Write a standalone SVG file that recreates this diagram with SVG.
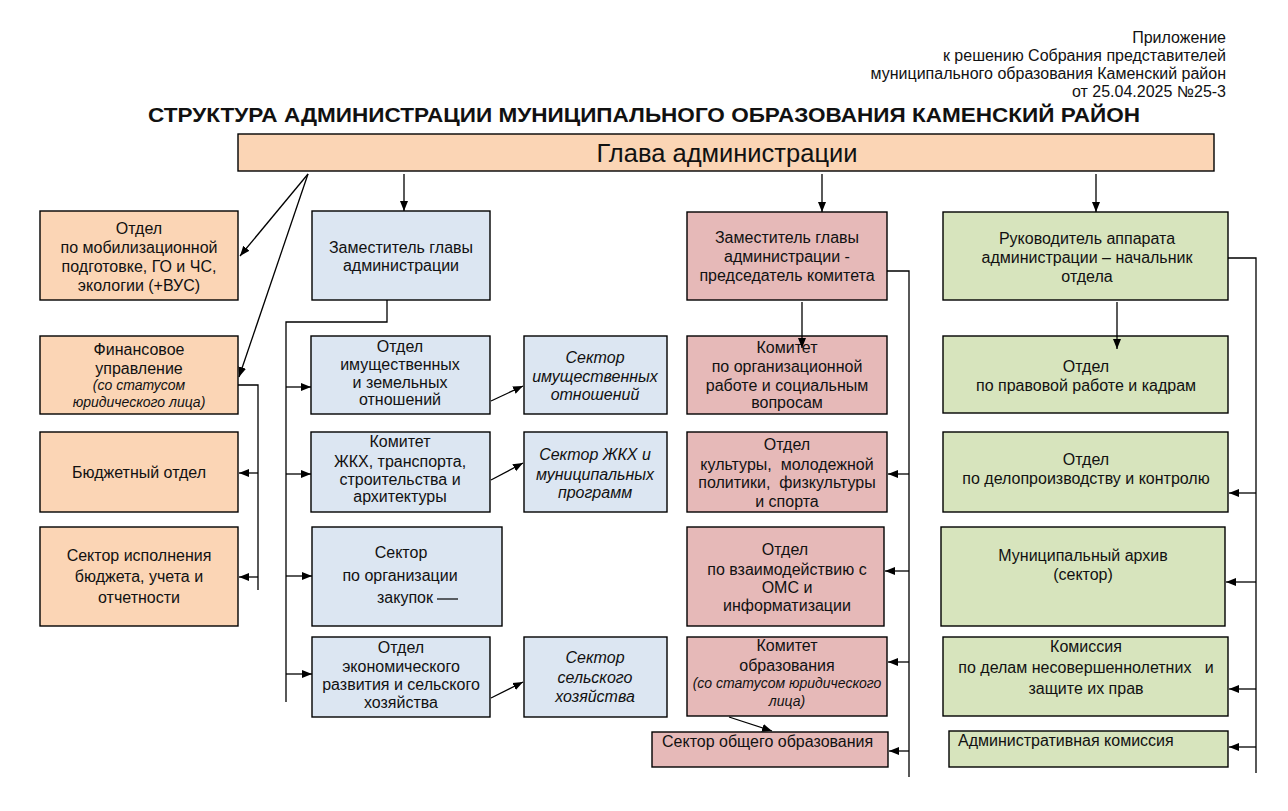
<svg xmlns="http://www.w3.org/2000/svg" width="1288" height="811" viewBox="0 0 1288 811">
<defs>
<marker id="ah" viewBox="0 0 10 10" refX="10" refY="5" markerWidth="10" markerHeight="10" markerUnits="userSpaceOnUse" orient="auto">
<path d="M0,1 L10,5 L0,9 Z" fill="#000"/>
</marker>
<style>
text{font-family:"Liberation Sans",Arial,sans-serif;fill:#111;white-space:pre}
.t{font-size:16px;text-anchor:middle}
.i{font-style:italic}
.s{font-size:14px;font-style:italic;text-anchor:middle}
.l{font-size:16px;text-anchor:start}
.h{font-size:16px;text-anchor:end}
.n{stroke:#000;stroke-width:1.4}
.o{fill:#FBD5B5}
.b{fill:#DCE6F2}
.p{fill:#E6B9B8}
.g{fill:#D7E4BD}
.c line,.c polyline{stroke:#000;stroke-width:1.3;fill:none}
.a{marker-end:url(#ah)}
</style>
</defs>
<rect x="0" y="0" width="1288" height="811" fill="#fff"/>

<g id="header">
<text class="h" x="1226" y="43">Приложение</text>
<text class="h" x="1226" y="61">к решению Собрания представителей</text>
<text class="h" x="1226" y="79">муниципального образования Каменский район</text>
<text class="h" x="1226" y="97">от 25.04.2025 №25-3</text>
<text x="148" y="122" font-size="21" font-weight="bold" textLength="992" lengthAdjust="spacingAndGlyphs">СТРУКТУРА АДМИНИСТРАЦИИ МУНИЦИПАЛЬНОГО ОБРАЗОВАНИЯ КАМЕНСКИЙ РАЙОН</text>
</g>

<g id="glava"><rect class="n o" x="238" y="134" width="976" height="37"/><text x="727" y="162" font-size="25.5" text-anchor="middle">Глава администрации</text></g>

<g id="mob"><rect class="n o" x="40" y="211" width="198" height="89"/>
<text class="t" x="139" y="234">Отдел</text><text class="t" x="139" y="253">по мобилизационной</text><text class="t" x="139" y="272">подготовке, ГО и ЧС,</text><text class="t" x="139" y="291">экологии (+ВУС)</text></g>

<g id="fin"><rect class="n o" x="40" y="336" width="198" height="78"/>
<text class="t" x="139" y="355">Финансовое</text><text class="t" x="139" y="374">управление</text><text class="s" x="139" y="390">(со статусом</text><text class="s" x="139" y="407">юридического лица)</text></g>

<g id="budget"><rect class="n o" x="40" y="432" width="198" height="80"/><text class="t" x="139" y="478">Бюджетный отдел</text></g>

<g id="ispoln"><rect class="n o" x="40" y="527" width="198" height="99"/>
<text class="t" x="139" y="561">Сектор исполнения</text><text class="t" x="139" y="582">бюджета, учета и</text><text class="t" x="139" y="603">отчетности</text></g>

<g id="zam1"><rect class="n b" x="312" y="211" width="178" height="89"/>
<text class="t" x="401" y="253">Заместитель главы</text><text class="t" x="401" y="271">администрации</text></g>

<g id="imush"><rect class="n b" x="311" y="336" width="179" height="78"/>
<text class="t" x="400" y="352">Отдел</text><text class="t" x="400" y="370">имущественных</text><text class="t" x="400" y="388">и земельных</text><text class="t" x="400" y="405">отношений</text></g>

<g id="sim"><rect class="n b" x="524" y="336" width="143" height="78"/>
<text class="t i" x="595" y="363">Сектор</text><text class="t i" x="595" y="382">имущественных</text><text class="t i" x="595" y="400">отношений</text></g>

<g id="zkh"><rect class="n b" x="311" y="432" width="179" height="80"/>
<text class="t" x="400" y="447">Комитет</text><text class="t" x="400" y="467">ЖКХ, транспорта,</text><text class="t" x="400" y="485">строительства и</text><text class="t" x="400" y="502">архитектуры</text></g>

<g id="szkh"><rect class="n b" x="524" y="432" width="143" height="80"/>
<text class="t i" x="595" y="460">Сектор ЖКХ и</text><text class="t i" x="595" y="480">муниципальных</text><text class="t i" x="595" y="498">программ</text></g>

<g id="zakup"><rect class="n b" x="312" y="527" width="190" height="99"/>
<text class="t" x="401" y="558">Сектор</text><text class="t" x="400" y="581">по организации</text><text class="t" x="405" y="603">закупок</text>
<line x1="437" y1="599" x2="458" y2="599" stroke="#000" stroke-width="1.2"/></g>

<g id="econ"><rect class="n b" x="312" y="637" width="178" height="80"/>
<text class="t" x="401" y="653">Отдел</text><text class="t" x="401" y="672">экономического</text><text class="t" x="401" y="690">развития и сельского</text><text class="t" x="401" y="708">хозяйства</text></g>

<g id="sselh"><rect class="n b" x="524" y="637" width="143" height="80"/>
<text class="t i" x="595" y="663">Сектор</text><text class="t i" x="595" y="683">сельского</text><text class="t i" x="595" y="702">хозяйства</text></g>

<g id="zam2"><rect class="n p" x="687" y="212" width="200" height="88"/>
<text class="t" x="787" y="243">Заместитель главы</text><text class="t" x="787" y="262">администрации -</text><text class="t" x="787" y="281">председатель комитета</text></g>

<g id="korg"><rect class="n p" x="687" y="336" width="200" height="78"/>
<text class="t" x="787" y="353">Комитет</text><text class="t" x="787" y="372">по организационной</text><text class="t" x="787" y="391">работе и социальным</text><text class="t" x="787" y="408">вопросам</text></g>

<g id="kult"><rect class="n p" x="687" y="432" width="200" height="80"/>
<text class="t" x="787" y="450">Отдел</text><text class="t" x="787" y="470">культуры,  молодежной</text><text class="t" x="787" y="488">политики,  физкультуры</text><text class="t" x="787" y="507">и спорта</text></g>

<g id="oms"><rect class="n p" x="687" y="527" width="197" height="99"/>
<text class="t" x="785" y="555">Отдел</text><text class="t" x="787" y="575">по взаимодействию с</text><text class="t" x="787" y="593">ОМС и</text><text class="t" x="787" y="611">информатизации</text></g>

<g id="kobr"><rect class="n p" x="687" y="637" width="200" height="79"/>
<text class="t" x="787" y="651">Комитет</text><text class="t" x="787" y="671">образования</text><text class="s" x="787" y="688">(со статусом юридического</text><text class="s" x="787" y="706">лица)</text></g>

<g id="sobr"><rect class="n p" x="652" y="732" width="236" height="35"/><text class="l" x="662" y="747">Сектор общего образования</text></g>

<g id="ruk"><rect class="n g" x="943" y="212" width="285" height="88"/>
<text class="t" x="1087" y="244">Руководитель аппарата</text><text class="t" x="1087" y="263">администрации – начальник</text><text class="t" x="1087" y="282">отдела</text></g>

<g id="prav"><rect class="n g" x="943" y="336" width="285" height="77"/>
<text class="t" x="1086" y="372">Отдел</text><text class="t" x="1086" y="391">по правовой работе и кадрам</text></g>

<g id="delo"><rect class="n g" x="943" y="432" width="285" height="80"/>
<text class="t" x="1086" y="465">Отдел</text><text class="t" x="1086" y="484">по делопроизводству и контролю</text></g>

<g id="arch"><rect class="n g" x="941" y="527" width="284" height="99"/>
<text class="t" x="1083" y="561">Муниципальный архив</text><text class="t" x="1083" y="580">(сектор)</text></g>

<g id="kdn"><rect class="n g" x="943" y="637" width="285" height="79"/>
<text class="t" x="1086" y="652">Комиссия</text><text class="t" x="1086" y="673">по делам несовершеннолетних   и</text><text class="t" x="1086" y="694">защите их прав</text></g>

<g id="adm"><rect class="n g" x="949" y="731" width="279" height="36"/><text class="l" x="958" y="746">Административная комиссия</text></g>

<g id="connectors" class="c">
<line class="a" x1="308" y1="174" x2="240" y2="256"/>
<line class="a" x1="308" y1="174" x2="239" y2="377"/>
<line class="a" x1="404" y1="174" x2="404" y2="211"/>
<line class="a" x1="822" y1="174" x2="822" y2="212"/>
<line class="a" x1="1096" y1="174" x2="1096" y2="212"/>

<polyline points="238,385 258,385 258,590"/>
<line class="a" x1="258" y1="473" x2="239" y2="473"/>
<line class="a" x1="258" y1="577" x2="239" y2="577"/>

<polyline points="387,300 387,322 286,322 286,702"/>
<line class="a" x1="286" y1="387" x2="311" y2="387"/>
<line class="a" x1="286" y1="474" x2="311" y2="474"/>
<line class="a" x1="286" y1="576" x2="312" y2="576"/>
<line class="a" x1="286" y1="674" x2="312" y2="674"/>
<line class="a" x1="491" y1="401" x2="523" y2="386"/>
<line class="a" x1="491" y1="480" x2="523" y2="463"/>
<line class="a" x1="491" y1="698" x2="523" y2="682"/>

<line class="a" x1="802" y1="302" x2="802" y2="348"/>
<polyline points="887,271 909,271 909,777"/>
<line class="a" x1="909" y1="474" x2="888" y2="474"/>
<line class="a" x1="909" y1="571" x2="885" y2="571"/>
<line class="a" x1="909" y1="662" x2="888" y2="662"/>
<line class="a" x1="909" y1="751" x2="889" y2="751"/>
<line class="a" x1="729" y1="717" x2="772" y2="731"/>

<line class="a" x1="1117" y1="302" x2="1117" y2="349"/>
<polyline points="1228,258 1256,258 1256,773"/>
<line class="a" x1="1256" y1="493" x2="1229" y2="493"/>
<line class="a" x1="1256" y1="582" x2="1226" y2="582"/>
<line class="a" x1="1256" y1="689" x2="1229" y2="689"/>
<line class="a" x1="1256" y1="747" x2="1229" y2="747"/>
</g>
</svg>
